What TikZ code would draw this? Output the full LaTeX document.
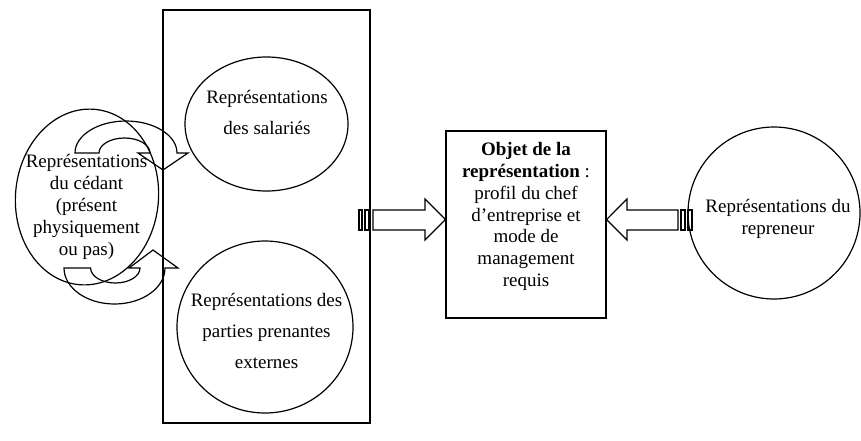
\documentclass[tikz,border=0pt]{standalone}
\usepackage{fontspec}
\setmainfont{Liberation Serif}
\usetikzlibrary{shapes.geometric}
\tikzset{
  ln/.style={line width=1.2pt, draw=black},
  oval/.style={ln, ellipse, inner sep=0pt},
  tight/.style={align=center, inner sep=0pt, font=\fontsize{19}{21.8}\selectfont},
  loose/.style={align=center, inner sep=0pt, font=\fontsize{19}{31}\selectfont},
  blockarrow/.style={ln, line join=miter}
}
\begin{document}
\begin{tikzpicture}[x=1pt,y=-1pt]
\useasboundingbox (0,0) rectangle (861,440);
% big frame
\node[ln, rectangle, minimum width=207pt, minimum height=413pt, inner sep=0pt] (frame) at (266.5,216.5) {};
% circles
\node[oval, minimum width=163pt, minimum height=134pt] (salC) at (266.5,124) {};
\node[loose] (salT) at (267,112.5) {Représentations\\des salariés};
\node[oval, minimum width=176pt, minimum height=172pt] (extC) at (265,327) {};
\node[loose] (extT) at (266.5,331) {Représentations des\\parties prenantes\\externes};
\node[oval, minimum width=143pt, minimum height=176pt, rotate=-5] (cedC) at (87,197) {};
\node[tight] (cedT) at (86.5,207) {Représentations\\du cédant\\(présent\\physiquement\\ou pas)};
\node[oval, minimum width=172pt, minimum height=172pt] (repC) at (774,213) {};
\node[tight] (repT) at (778,219) {Représentations du\\repreneur};
% central box
\node[ln, rectangle, minimum width=160pt, minimum height=187pt, inner sep=0pt] (obj) at (526,224.5) {};
\node[tight] (objT) at (526,216.5) {\textbf{Objet de la}\\\textbf{représentation} :\\profil du chef\\d’entreprise et\\mode de\\management\\requis};
% left striped arrow
\coordinate (lt) at (obj.west |- 0,219.5);
\draw[blockarrow] (359,210) rectangle (362,230);
\draw[blockarrow] (365,210) rectangle (369,230);
\draw[blockarrow] (373,210) -- (425,210) -- (425,199) -- (lt) -- (425,240) -- (425,230) -- (373,230) -- cycle;
% right striped arrow
\coordinate (rt) at (obj.east |- 0,219.5);
\draw[blockarrow] (681,210) rectangle (685,230);
\draw[blockarrow] (688,210) rectangle (692,230);
\draw[blockarrow] (678,210) -- (627,210) -- (627,199) -- (rt) -- (627,240) -- (627,230) -- (678,230) -- cycle;
% top curved arrow
\draw[blockarrow] (75,153) arc[start angle=180, end angle=360, x radius=51, y radius=32]
  -- (188,153) -- (163,170) -- (138,153) -- (150,153)
  arc[start angle=0, end angle=-180, x radius=25.5, y radius=15] -- cycle;
% bottom curved arrow
\draw[blockarrow] (64,268) arc[start angle=180, end angle=0, x radius=50.5, y radius=36]
  -- (178,268) -- (153,250) -- (129,268) -- (140,268)
  arc[start angle=0, end angle=180, x radius=24.7, y radius=15] -- cycle;
\end{tikzpicture}
\end{document}
